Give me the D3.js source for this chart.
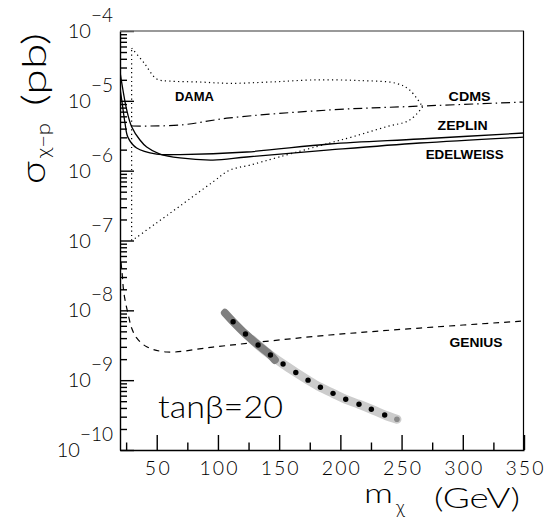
<!doctype html>
<html>
<head>
<meta charset="utf-8">
<title>sigma vs m</title>
<script src="https://cdn.jsdelivr.net/npm/d3@7/dist/d3.min.js"></script>
<style>
  body { margin: 0; background: #fff; }
  text { font-family: Lato, "Open Sans", sans-serif; font-weight: 300; fill: #000; }
  .lab { font-family: "Liberation Sans", Arial, sans-serif; font-weight: bold; font-size: 13.5px; }
</style>
</head>
<body>
<script>

// data: [m (GeV), sigma (pb)]
var damaUpper = [[29.5,5.7e-5],[39.6,3.5e-5],[50,2.06e-5],[60.8,1.92e-5],[85.3,1.86e-5],[109.7,1.78e-5],
  [142.4,1.86e-5],[177.5,1.99e-5],[215.8,1.95e-5],[245.7,1.78e-5],[256.6,1.43e-5],[267.2,8.2e-6]];
var damaLower = [[267.2,8.2e-6],[256.6,5.3e-6],[237.6,4.26e-6],[210.1,3.06e-6],[191.3,2.49e-6],[150.5,1.58e-6],
  [126.1,1.2e-6],[109.7,1.02e-6],[95.9,6.9e-7],[69,3.12e-7],[48.6,1.72e-7],[30.6,1.02e-7]];
var damaEdge = [[29.5,1.0e-7],[29.5,5.7e-5]];

var cdms = [[29.8,4.36e-6],[69,4.5e-6],[109.7,5.7e-6],[191.3,7.4e-6],[264.8,8.4e-6],[349,9.6e-6]];

var edelweiss = [[20,2.6e-5],[25.5,7.4e-6],[29.5,4.27e-6],[36.3,2.75e-6],[41.8,2.18e-6],[52.6,1.73e-6],
  [69,1.52e-6],[95.9,1.42e-6],[123.6,1.57e-6],[191.3,1.98e-6],[264.8,2.49e-6],[350,3.03e-6]];
var zeplin = [[20,1.5e-5],[21.4,1.03e-5],[24.1,4.8e-6],[26.5,3.0e-6],[33.6,2.11e-6],[49.9,1.73e-6],
  [69,1.7e-6],[123.6,1.85e-6],[191.3,2.41e-6],[264.8,2.84e-6],[350,3.46e-6]];

var genius = [[20.8,4.9e-8],[22,3.0e-8],[22.7,2.09e-8],[24.1,1.41e-8],[26.8,8.57e-9],[29.5,5.58e-9],
  [33.6,4.02e-9],[41.8,3.01e-9],[58.3,2.53e-9],[95.9,2.98e-9],[134.2,3.52e-9],[191.3,4.43e-9],
  [264.8,5.58e-9],[350,7.03e-9]];

var bandDark = [[105.7,9.2e-9],[112.4,6.87e-9],[122.5,4.58e-9],[132.8,3.19e-9],[142.9,2.29e-9],[146.5,1.95e-9]];
var bandLight = [[128,3.8e-9],[132.8,3.19e-9],[142.9,2.29e-9],[153.2,1.70e-9],[163.6,1.29e-9],[173.6,1.0e-9],
  [183.7,7.9e-10],[194,6.48e-10],[204.4,5.32e-10],[215.2,4.51e-10],[225.3,3.83e-10],[236.2,3.17e-10],[246.2,2.75e-10]];
var dotM = [112.4,122.5,132.8,142.9,153.2,163.6,173.6,183.7,194,204.4,215.2,225.3,236.2];
var dotS = [6.87e-9,4.58e-9,3.19e-9,2.29e-9,1.70e-9,1.29e-9,1.0e-9,7.9e-10,6.48e-10,5.32e-10,4.51e-10,3.83e-10,3.17e-10];
var endDot = [246.2,2.75e-10];

var xMajor = [50,100,150,200,250,300,350];
var xMinor = [25,75,125,175,225,275,325];
var yExp = [-10,-9,-8,-7,-6,-5,-4];

// label anchor = left end of text baseline, in data units
var labels = [
  {t:"DAMA", m:64.9, s:1.0e-5, w:39},
  {t:"CDMS", m:288.4, s:1.0e-5, w:42},
  {t:"ZEPLIN", m:279.4, s:3.82e-6, w:50},
  {t:"EDELWEISS", m:269.7, s:1.47e-6, w:78},
  {t:"GENIUS", m:289.2, s:2.98e-9, w:53}
];

var W = 546, H = 523;
var x = d3.scaleLinear().domain([20,350]).range([120,524]);
var y = d3.scaleLog().domain([1e-10,1e-4]).range([450,31]);

var svg = d3.select("body").append("svg").attr("width", W).attr("height", H);

svg.append("defs").append("clipPath").attr("id","clip")
  .append("rect").attr("x",120).attr("y",31).attr("width",404).attr("height",419);

// y minor ticks 2..9 per decade
var yMinor = [];
for (var e = -10; e < -4; e++) for (var k = 2; k <= 9; k++) yMinor.push(k * Math.pow(10, e));

var gx = svg.append("g").attr("transform","translate(0,450)");
gx.call(d3.axisBottom(x).tickValues(xMajor).tickSize(-15).tickSizeOuter(0).tickPadding(11)
  .tickFormat(d3.format("d")));
gx.append("g").call(d3.axisBottom(x).tickValues(xMinor).tickSize(-7.5).tickSizeOuter(0).tickFormat(""))
  .select(".domain").remove();
gx.selectAll("text").style("font-size","19.5px").style("font-family","Lato, sans-serif")
  .attr("textLength", function(d){ return d < 100 ? 25 : 38; });
gx.selectAll("line, path").attr("stroke","#000").attr("stroke-width",1.4);

var gy = svg.append("g").attr("transform","translate(120,0)");
gy.call(d3.axisLeft(y).tickValues(yExp.map(function(p){return Math.pow(10,p);})).tickSize(-14)
  .tickSizeOuter(0).tickFormat(""));
gy.append("g").call(d3.axisLeft(y).tickValues(yMinor).tickSize(-7).tickSizeOuter(0).tickFormat(""))
  .select(".domain").remove();
gy.selectAll("line, path").attr("stroke","#000").attr("stroke-width",1.4);

// frame top / right
svg.append("line").attr("x1",120).attr("x2",524).attr("y1",31).attr("y2",31)
  .attr("stroke","#777").attr("stroke-width",1.6);
svg.append("line").attr("x1",523.5).attr("x2",523.5).attr("y1",31).attr("y2",450)
  .attr("stroke","#000").attr("stroke-width",1.2);

// y tick labels 10^n
yExp.forEach(function(p){
  var t = svg.append("text").attr("x",113).attr("y", y(Math.pow(10,p)) + 7)
    .attr("text-anchor","end").style("font-size","20px");
  t.append("tspan").text("10");
  t.append("tspan").attr("dy",-16).style("font-size","19px").text("\u2212" + (-p));
});

var line = d3.line().x(function(d){return x(d[0]);}).y(function(d){return y(d[1]);});
var smooth = d3.line().x(function(d){return x(d[0]);}).y(function(d){return y(d[1]);}).curve(d3.curveCatmullRom);

var plot = svg.append("g").attr("clip-path","url(#clip)").attr("fill","none");

[damaUpper, damaLower].forEach(function(c){
  plot.append("path").attr("d", smooth(c)).attr("stroke","#000").attr("stroke-width",1.2)
    .attr("stroke-dasharray","1.2,3.2");
});
plot.append("path").attr("d", line(damaEdge)).attr("stroke","#000").attr("stroke-width",1.2)
  .attr("stroke-dasharray","1.2,3.2");

plot.append("path").attr("d", smooth(cdms)).attr("stroke","#000").attr("stroke-width",1.2)
  .attr("stroke-dasharray","9,4,1.5,4");

plot.append("path").attr("d", smooth(edelweiss)).attr("stroke","#000").attr("stroke-width",1.3);
plot.append("path").attr("d", smooth(zeplin)).attr("stroke","#000").attr("stroke-width",1.3);

plot.append("path").attr("d", smooth(genius)).attr("stroke","#000").attr("stroke-width",1.2)
  .attr("stroke-dasharray","6,5");

// the model band
plot.append("path").attr("d", smooth(bandLight)).attr("stroke","#cccccc").attr("stroke-width",9)
  .attr("stroke-linecap","round");
plot.append("path").attr("d", smooth(bandDark)).attr("stroke","#808080").attr("stroke-width",8)
  .attr("stroke-linecap","round");
plot.selectAll("circle.pt").data(dotM).enter().append("circle").attr("class","pt")
  .attr("cx", function(d){return x(d);})
  .attr("cy", function(d,i){return y(dotS[i]);})
  .attr("r", 2.7).attr("fill","#000");
plot.append("circle").attr("cx", x(endDot[0])).attr("cy", y(endDot[1])).attr("r",2.8).attr("fill","#8a8a8a");

// curve labels
labels.forEach(function(l){
  svg.append("text").attr("class","lab").attr("x", x(l.m)).attr("y", y(l.s))
    .attr("textLength", l.w).attr("lengthAdjust","spacingAndGlyphs")
    .text(l.t);
});

svg.append("text").attr("x",158).attr("y",418).style("font-size","32px")
  .attr("textLength",125).attr("lengthAdjust","spacingAndGlyphs").text("tan\u03B2=20");

// axis titles
svg.append("text").attr("x",364).attr("y",503).style("font-size","28px")
  .attr("textLength",29).attr("lengthAdjust","spacingAndGlyphs").text("m");
svg.append("text").attr("x",396).attr("y",514).style("font-size","19px").text("\u03C7");
svg.append("text").attr("x",434).attr("y",508).style("font-size","27px")
  .attr("textLength",86).attr("lengthAdjust","spacingAndGlyphs").text("(GeV)");

var yt = svg.append("g").attr("transform","translate(45,0) rotate(-90)");
yt.append("text").attr("x",-184).attr("y",0).style("font-size","33px")
  .attr("textLength",23).attr("lengthAdjust","spacingAndGlyphs").text("\u03C3");
yt.append("text").attr("x",-158).attr("y",5).style("font-size","19px")
  .attr("textLength",35).attr("lengthAdjust","spacingAndGlyphs").text("\u03C7\u2212p");
yt.append("text").attr("x",-106).attr("y",1).style("font-size","34px")
  .attr("textLength",73).attr("lengthAdjust","spacingAndGlyphs").text("(pb)");

</script>
</body>
</html>
